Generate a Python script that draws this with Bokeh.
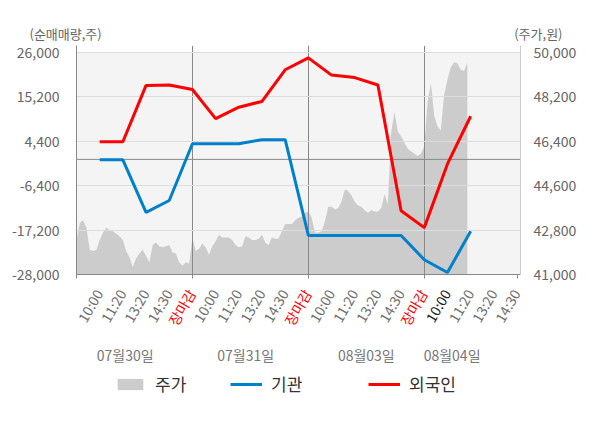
import math
from bokeh.plotting import figure
from bokeh.layouts import column
from bokeh.models import (Range1d, LinearAxis, FixedTicker, NumeralTickFormatter,
                          BoxAnnotation, Span, ColumnDataSource, Legend, LegendItem)
from bokeh.core.properties import value
from bokeh.embed import file_html
from bokeh.resources import INLINE

FONT = "Noto Sans CJK KR"

# ---------------- data ----------------
time_labels = ["10:00", "11:20", "13:20", "14:30", "장마감",
               "10:00", "11:20", "13:20", "14:30", "장마감",
               "10:00", "11:20", "13:20", "14:30", "장마감",
               "10:00", "11:20", "13:20", "14:30"]
day_labels = ["07월30일", "07월31일", "08월03일", "08월04일"]
series_names = ["주가", "기관", "외국인"]

# net buying (shares), one value per time slot (10:00 day1 ... 11:20 day4)
inst = [-100, -100, -12900, -10000, 3800, 3800, 3800, 4800, 4800,
        -18500, -18500, -18500, -18500, -18500, -24400, -27500, -17500]
foreign = [4300, 4300, 18000, 18100, 17000, 9900, 12700, 14100, 21800,
           24700, 20500, 19900, 18100, -12500, -16600, -1100, 10500]

# intraday share price (won), evenly sampled through each session
price_d1 = [42400, 43100, 43200, 42900, 42000, 41950, 42000, 42400, 42700, 42900,
            42800, 42750, 42650, 42550, 42400, 41950, 41700, 41300, 41650, 41850,
            42000, 41750, 41500, 42200, 42300, 42150, 42100, 42150, 42200, 41900,
            41850, 41500, 41350, 41500, 41450]
price_d2 = [42500, 41950, 42050, 42250, 42100, 41800, 42150, 42350, 42600, 42500,
            42500, 42500, 42400, 42200, 42100, 42150, 42550, 42500, 42400, 42400,
            42450, 42600, 42300, 42200, 42500, 42450, 42450, 42750, 43050, 43050,
            43050, 43200, 43300, 43350, 43500]
price_d3 = [43550, 43300, 42700, 42700, 42750, 43150, 43750, 43750, 43650, 43700,
            43950, 44450, 44400, 44200, 43950, 43800, 43750, 43600, 43500, 43600,
            43550, 43550, 43700, 44250, 43850, 46750, 47600, 46800, 46600, 46350,
            46100, 46000, 45900, 45800, 45900]
price_d4 = [46200, 48000, 48750, 47450, 47000, 46850, 48300, 48900, 49400, 49600,
            49550, 49300, 49250, 49600]

left_ticks = [-28000, -17200, -6400, 4400, 15200, 26000]
right_ticks = [41000, 42800, 44600, 46400, 48200, 50000]

# ---------------- derived ----------------
SLOTS_PER_DAY = 5
SAMPLES_PER_DAY = 35
X_END = 19.15
slots = list(range(1, len(time_labels) + 1))
line_x = slots[:len(inst)]

price_x, price_y = [], []
for d, day in enumerate([price_d1, price_d2, price_d3, price_d4]):
    for i, v in enumerate(day):
        price_x.append(d * SLOTS_PER_DAY + i * SLOTS_PER_DAY / SAMPLES_PER_DAY)
        price_y.append(v)

pad = 7 / 222
l_lo, l_hi = left_ticks[0], left_ticks[-1]
r_lo, r_hi = right_ticks[0], right_ticks[-1]
left_top = l_hi + (l_hi - l_lo) * pad
right_top = r_hi + (r_hi - r_lo) * pad

W = 584
H_MAIN = 366
H_LEG = 46
BL, BR = 76, 64

p = figure(width=W, height=H_MAIN, output_backend="svg", toolbar_location=None,
           x_range=Range1d(0, X_END), y_range=Range1d(l_lo, left_top),
           min_border_left=BL, min_border_right=BR, min_border_top=45,
           min_border_bottom=92)
p.extra_y_ranges = {"price": Range1d(r_lo, right_top)}
p.outline_line_color = None
p.background_fill_color = "white"
p.border_fill_color = "white"

p.add_layout(BoxAnnotation(left=0, right=X_END, bottom=l_lo, top=l_hi,
                           fill_color="#f4f4f4", fill_alpha=1, line_color=None,
                           level="image"))

# axes
xa = p.xaxis[0]
xa.ticker = FixedTicker(ticks=[0, 5, 10, 15, 19])
xa.major_label_overrides = {0: "", 5: "", 10: "", 15: "", 19: ""}
xa.major_tick_in = 0
xa.major_tick_out = 4
xa.minor_tick_line_color = None
xa.axis_line_color = "#888888"
xa.major_tick_line_color = "#888888"

ya = p.yaxis[0]
ya.ticker = FixedTicker(ticks=left_ticks)
ya.formatter = NumeralTickFormatter(format="0,0")
ya.major_tick_line_color = None
ya.minor_tick_line_color = None
ya.axis_line_color = "#888888"
ya.major_label_text_color = "#666666"
ya.major_label_text_font = FONT
ya.major_label_text_font_size = "14px"
ya.major_label_standoff = 11

ra = LinearAxis(y_range_name="price", ticker=FixedTicker(ticks=right_ticks),
                formatter=NumeralTickFormatter(format="0,0"))
ra.major_tick_line_color = None
ra.minor_tick_line_color = None
ra.axis_line_color = "#cccccc"
ra.major_label_text_color = "#666666"
ra.major_label_text_font = FONT
ra.major_label_text_font_size = "14px"
ra.major_label_standoff = 7
p.add_layout(ra, "right")

# grids
p.ygrid.ticker = FixedTicker(ticks=left_ticks)
p.ygrid.grid_line_color = "#dddddd"
p.ygrid.level = "glyph"
p.xgrid.ticker = FixedTicker(ticks=[5, 10, 15])
p.xgrid.grid_line_color = "#888888"
p.xgrid.level = "glyph"
p.add_layout(Span(location=0, dimension="width", line_color="#888888",
                  line_width=1, level="glyph"))

# glyphs
p.varea(x=price_x, y1=r_lo, y2=price_y, y_range_name="price",
        fill_color="#cccccc", level="underlay")
p.line(line_x, inst, line_color="#0080cc", line_width=3, level="annotation")
p.line(line_x, foreign, line_color="#ff0000", line_width=3, level="annotation")

# time labels below axis
colors = []
for i, t in enumerate(time_labels):
    if t == "장마감":
        colors.append("#ff0000")
    elif i == 15:
        colors.append("#222222")
    else:
        colors.append("#707070")
tsrc = ColumnDataSource(dict(x=slots, y=[l_lo] * len(slots), text=time_labels, color=colors))
p.text(x="x", y="y", text="text", source=tsrc, angle=math.pi / 3,
       text_align="right", text_baseline="middle", text_color="color",
       text_font=value(FONT), text_font_size="14px", x_offset=-1, y_offset=16,
       level="overlay")

date_x = [2.1, 7.3, 12.5, 16.2]
p.text(x=date_x, y=[l_lo] * 4, text=day_labels, text_align="center",
       text_baseline="middle", text_color="#777777", text_font=value(FONT),
       text_font_size="14px", y_offset=80, level="overlay")

# axis titles
p.text(x=[0], y=[left_top], text=["(순매매량,주)"], text_align="left",
       text_baseline="middle", text_color="#666666", text_font=value(FONT),
       text_font_size="13px", x_offset=-47, y_offset=-12, level="overlay")
p.text(x=[X_END], y=[left_top], text=["(주가,원)"], text_align="right",
       text_baseline="middle", text_color="#666666", text_font=value(FONT),
       text_font_size="13px", x_offset=42, y_offset=-12, level="overlay")

# legend strip (its frame is aligned with the chart frame above)
q = figure(width=W, height=H_LEG, output_backend="svg", toolbar_location=None,
           x_range=Range1d(0, 1), y_range=Range1d(0, 1),
           x_axis_location=None, y_axis_location=None,
           min_border_left=BL, min_border_right=BR, min_border_top=0, min_border_bottom=0)
q.outline_line_color = None
q.grid.visible = False
q.background_fill_color = "white"
# legend-only renderers, drawn outside the strip's visible range
lg_area = q.varea(x=[5, 6], y1=[0, 0], y2=[1, 1], fill_color="#cccccc")
lg_blue = q.line(x=[5, 6], y=[0, 0], line_color="#0080cc", line_width=3)
lg_red = q.line(x=[5, 6], y=[0, 0], line_color="#ff0000", line_width=3)
for label, r, lx in zip(series_names, [lg_area, lg_blue, lg_red], [38, 154, 292]):
    leg = Legend(items=[LegendItem(label=label, renderers=[r])], location=(lx, 16),
                 orientation="horizontal", glyph_width=32, glyph_height=14,
                 label_standoff=9, label_text_font=FONT, label_text_font_size="17px",
                 label_text_color="#333333", padding=0, margin=0, spacing=0,
                 border_line_color=None, background_fill_alpha=0)
    q.add_layout(leg)

layout = column(p, q, spacing=0)
open("out.html", "w").write(file_html(layout, INLINE))
